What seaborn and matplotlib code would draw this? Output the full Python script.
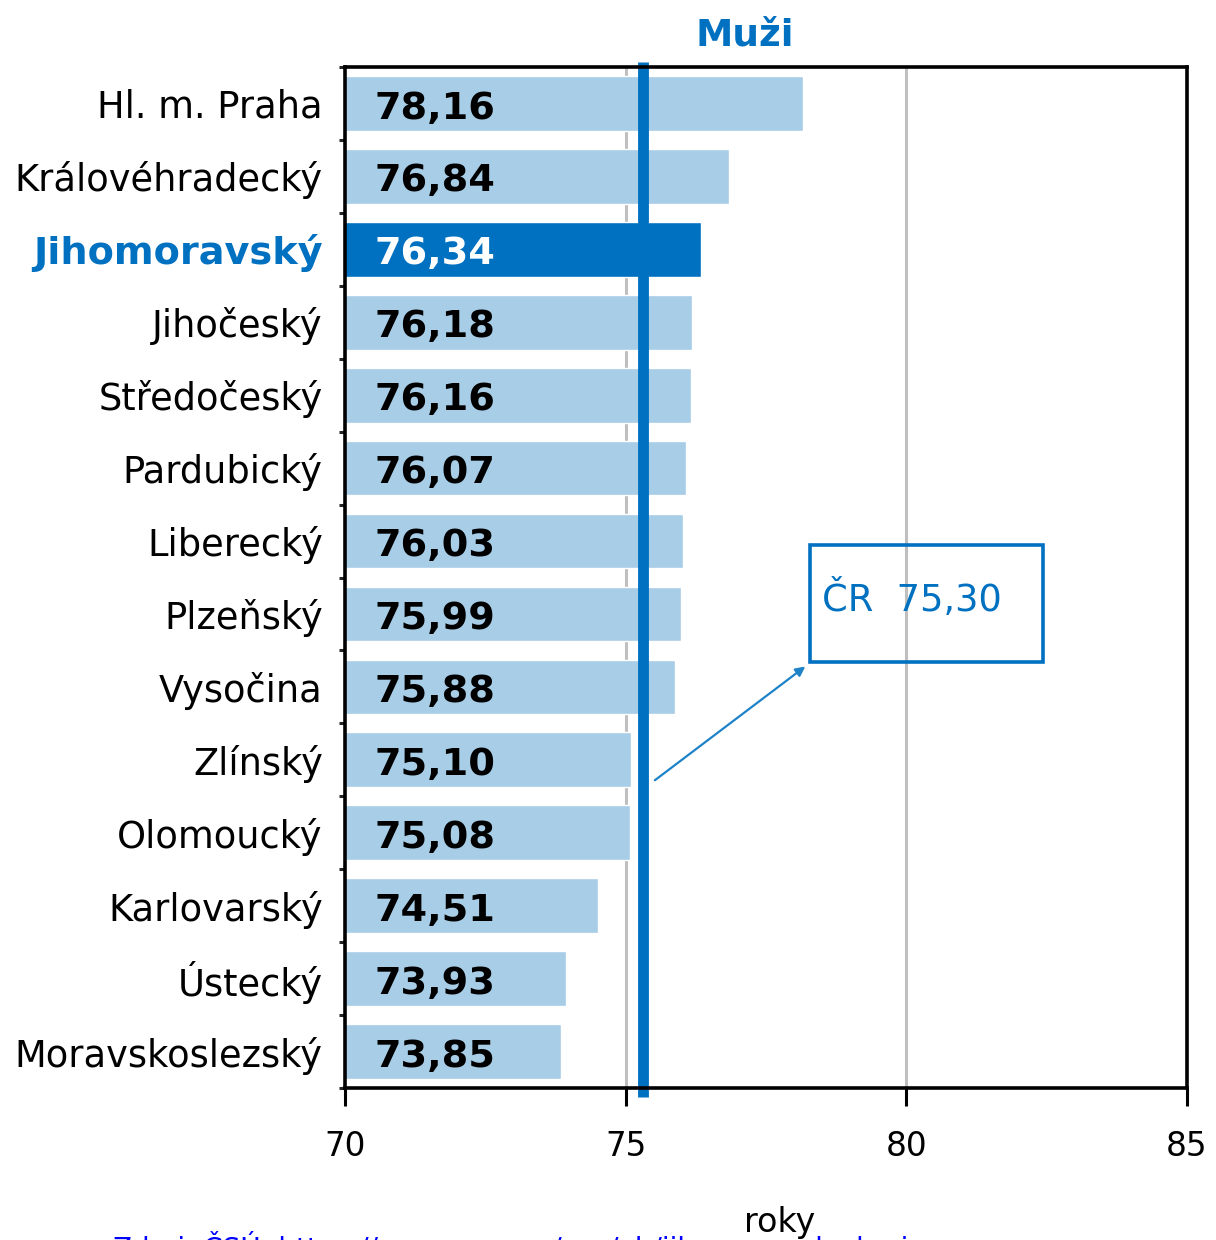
# Knihovny
import matplotlib.pyplot as plt
import matplotlib.patches as patches
import seaborn as sns
import pandas as pd

#
# 01. Proměnné
#
titulek = "Muži"
popisekX = "roky"
zdroj = "Zdroj: ČSÚ, https://www.czso.cz/csu/xb/jihomoravsky-kraj"
zvyraznenyKraj = "Jihomoravský"
hodnotaCR = 75.30

#
# 02. Data
#
kraje = ["Hl. m. Praha", "Královéhradecký", "Jihomoravský", "Jihočeský",
         "Středočeský", "Pardubický", "Liberecký", "Plzeňský", "Vysočina",
         "Zlínský", "Olomoucký", "Karlovarský", "Ústecký", "Moravskoslezský"]
nadeje = [78.16, 76.84, 76.34, 76.18, 76.16, 76.07, 76.03, 75.99, 75.88,
          75.10, 75.08, 74.51, 73.93, 73.85]
xTicky = [70, 75, 80, 85]

df = pd.DataFrame({"kraj": kraje, "nadeje": nadeje})

modra = "#0070C0"
svetla = "#A7CDE7"
barvy = {k: (modra if k == zvyraznenyKraj else svetla) for k in kraje}

#
# 03. Téma
#
sns.set_theme(style="white")
plt.rcParams['font.family'] = ['DejaVu Sans']

#
# 04. Graf
#
fig = plt.figure(figsize=(12.16, 12.40), dpi=100)
ax = fig.add_axes([345 / 1216, 1 - 1088 / 1240, 842 / 1216, 1021 / 1240])

sns.barplot(data=df, x="nadeje", y="kraj", hue="kraj", palette=barvy,
            orient="h", width=0.75, legend=False, saturation=1, ax=ax)

ax.set_xlim(70, 85)
ax.set_ylim(len(kraje) - 0.5, -0.5)

# mřížka
for xv in [75, 80]:
    ax.axvline(xv, color="#BFBFBF", linewidth=2.2, zorder=0)

# hodnoty v pruzích
for i, (k, v) in enumerate(zip(kraje, nadeje)):
    ax.text(70.52, i + 0.07, f"{v:.2f}".replace(".", ","),
            ha="left", va="center", fontsize=27.5, fontweight="bold",
            color="white" if k == zvyraznenyKraj else "black")

# čára ČR
ax.axvline(hodnotaCR, ymin=-0.009, ymax=1.005, color=modra,
           linewidth=7.8, clip_on=False, zorder=5, solid_capstyle="butt")

#
# 05. Osy
#
for s in ['bottom', 'left', 'top', 'right']:
    ax.spines[s].set_linewidth(2.6)
    ax.spines[s].set_color('black')
    ax.spines[s].set_zorder(6)

ax.set_xticks(xTicky)
ax.set_xticklabels([str(t) for t in xTicky])
ax.tick_params(axis="x", which="major", direction="out", length=13,
               width=2.2, color="black", labelsize=23.5, pad=17,
               bottom=True, labelcolor="black")

ax.set_yticks(range(len(kraje)))
ax.set_yticks([i - 0.5 for i in range(len(kraje) + 1)], minor=True)
ax.tick_params(axis="y", which="major", length=0, labelsize=26.5, pad=16,
               labelcolor="black")
ax.tick_params(axis="y", which="minor", direction="out", length=4.5,
               width=2.2, color="0.15", left=True)
ax.set_xlabel("")
ax.set_ylabel("")

for lbl in ax.get_yticklabels():
    if lbl.get_text() == zvyraznenyKraj:
        lbl.set_color(modra)
        lbl.set_fontweight("bold")
        lbl.set_fontsize(27.5)

#
# 06. Popisek ČR
#
box = patches.Rectangle((78.28, 6.06), 82.43 - 78.28, 7.66 - 6.06,
                        fill=False, edgecolor=modra, linewidth=2.6,
                        clip_on=False, zorder=7)
ax.add_patch(box)
ax.text(78.5, 6.8, "ČR  75,30", ha="left", va="center", fontsize=26.5,
        color=modra, zorder=8)
ax.annotate("", xy=(78.2, 7.72), xytext=(75.52, 9.28),
            arrowprops=dict(arrowstyle="-|>", color="#1E82C8", lw=1.6,
                            mutation_scale=14, shrinkA=0, shrinkB=0),
            zorder=8)

#
# 07. Texty
#
fig.text(745 / 1216, 1 - 35 / 1240, titulek, ha="center", va="center",
         fontsize=27, fontweight="bold", color=modra)
fig.text(780 / 1216, 1 - 1206 / 1240, popisekX, ha="center", va="top",
         fontsize=24, color="black")
fig.text(113 / 1216, 1 - 1231 / 1240, zdroj, ha="left", va="top",
         fontsize=20, color="#0000FF")

#
# 08. Uložení
#
fig.savefig("out.png", dpi=100)
